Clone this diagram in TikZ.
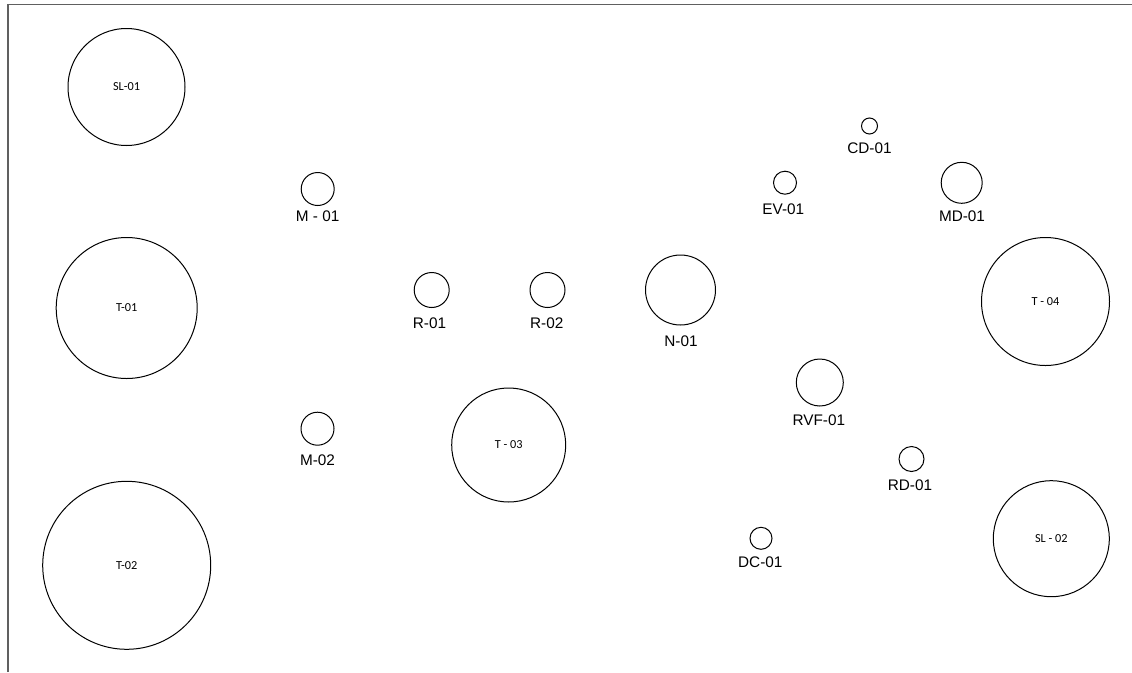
\documentclass[tikz,border=0pt]{standalone}
\usepackage{fontspec}
\setmainfont{Liberation Sans}
\newfontfamily\tagfont{Carlito}
\tikzset{every picture/.style={line width=0.75pt}}

\begin{document}
\begin{tikzpicture}[x=0.75pt,y=0.75pt,yscale=-1,xscale=1,
  equip/.style={draw, circle, inner sep=0pt, minimum size={#1*0.75pt}},
  tank/.style={equip=#1, font=\tagfont\fontsize{9.2}{11}\selectfont},
  tag/.style={inner sep=0.75pt, font=\fontsize{11.5}{13}\selectfont}]
\useasboundingbox (0,0) rectangle (1132,672);

%Frame
\draw [color={rgb, 255:red, 96; green, 96; blue, 96 }, line width=1.2pt] (8,672) -- (8,4.5) -- (1132,4.5) ;

%Shape: Circle (tanks)
\node [tank=117] (sl01) at (126.5,87) {SL-01};
\node [tank=141] (t01) at (126.7,308) {T-01};
\node [tank=168] (t02) at (126.7,565.3) {T-02};
\node [tank=114] (t03) at (508.7,445) {T - 03};
\node [tank=128] (t04) at (1045.5,301.5) {T - 04};
\node [tank=116] (sl02) at (1051.3,538.7) {SL - 02};

%Shape: Circle (units)
\node [equip=33] (m01) at (317.7,189) {};
\node [equip=33] (m02) at (317.5,428.7) {};
\node [equip=35] (r01) at (431.7,290) {};
\node [equip=35] (r02) at (547.5,290) {};
\node [equip=70] (n01) at (680.5,290) {};
\node [equip=23] (ev01) at (785,182.7) {};
\node [equip=16] (cd01) at (869.5,126) {};
\node [equip=41] (md01) at (961.7,182.8) {};
\node [equip=47] (rvf01) at (819.8,382.5) {};
\node [equip=25] (rd01) at (911.5,459) {};
\node [equip=22] (dc01) at (761,538.3) {};

% Text Node
\node [tag] (m01tag) at (317.7,216.7) {M - 01};
\node [tag] (m02tag) at (317.5,460) {M-02};
\node [tag] (r01tag) at (429.5,323) {R-01};
\node [tag] (r02tag) at (546.7,323) {R-02};
\node [tag] (n01tag) at (681,341.7) {N-01};
\node [tag] (ev01tag) at (783.3,209) {EV-01};
\node [tag] (cd01tag) at (869.5,148.3) {CD-01};
\node [tag] (md01tag) at (962,216) {MD-01};
\node [tag] (rvf01tag) at (818.8,420.7) {RVF-01};
\node [tag] (rd01tag) at (910,485) {RD-01};
\node [tag] (dc01tag) at (760.3,562.7) {DC-01};

\end{tikzpicture}
\end{document}
